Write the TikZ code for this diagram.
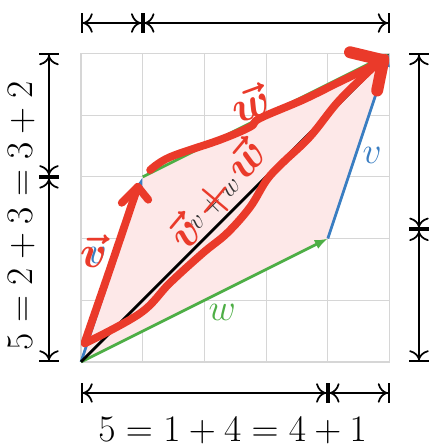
\documentclass[tikz,border=0pt]{standalone}
\usetikzlibrary{arrows.meta}
\definecolor{vblue}{HTML}{3A7EC2}
\definecolor{wgreen}{HTML}{4DAE45}
\definecolor{pfill}{HTML}{FDE8E8}
\definecolor{redpen}{HTML}{EA3A2A}
\definecolor{gridgray}{HTML}{D6D6D6}
\begin{document}
\begin{tikzpicture}[x=1cm,y=1cm,
  dimline/.style={line width=0.8pt,
    {Bar[width=9pt,line width=0.9pt]Computer Modern Rightarrow[width=9pt,length=4.5pt]}-{Computer Modern Rightarrow[width=9pt,length=4.5pt]Bar[width=9pt,line width=0.9pt]}},
  vecline/.style={line width=1.3pt,-{Latex[length=6pt,width=4.5pt]}},
  biglabel/.style={font=\fontsize{16}{18}\selectfont, inner sep=0pt},
  dimlabel/.style={font=\fontsize{17}{20}\selectfont, inner sep=0pt},
  pen/.style={redpen, line width=3.6pt, line cap=round, line join=round},
  pentext/.style={text=redpen, font=\fontsize{20}{22}\selectfont\boldmath, inner sep=0pt}]
\useasboundingbox (-1.313,-1.378) rectangle (5.721,5.867);
% grid
\draw[gridgray, line width=0.5pt] (0,0) grid (5,5);
% named points
\coordinate (O) at (0,0);
\coordinate (V) at (1,3);
\coordinate (W) at (4,2);
\coordinate (S) at (5,5);
% parallelogram fill
\fill[pfill] (O) -- (V) -- (S) -- (W) -- cycle;
% vectors
\draw[vecline, vblue] (O) -- (V);
\draw[vecline, wgreen] (O) -- (W);
\draw[vecline, vblue] (W) -- (S);
\draw[vecline, wgreen] (V) -- (S);
\draw[vecline, black] (O) -- (S);
% labels
\node[biglabel, text=wgreen] (lw) at (2.29,0.81) {$w$};
\node[biglabel, text=vblue] (lv) at (4.72,3.35) {$v$};
\node[biglabel, text=vblue] (lv2) at (0.26,1.73) {$v$};
\node[font=\fontsize{13}{15}\selectfont, inner sep=0pt, rotate=45, text=black!80] (lvw) at (2.17,2.56) {$v+w$};
% dimension lines
\coordinate (t0) at (0,5.494); \coordinate (t1) at (1,5.494); \coordinate (t5) at (5,5.494);
\coordinate (b0) at (0,-0.502); \coordinate (b4) at (4,-0.502); \coordinate (b5) at (5,-0.502);
\coordinate (l0) at (-0.519,0); \coordinate (l3) at (-0.519,3); \coordinate (l5) at (-0.519,5);
\coordinate (r5) at (5.478,5); \coordinate (r2) at (5.478,2.15); \coordinate (r0) at (5.478,0);
\draw[dimline] (t0) -- (t1);
\draw[dimline] (t1) -- (t5);
\draw[dimline] (b0) -- (b4);
\draw[dimline] (b4) -- (b5);
\draw[dimline] (l0) -- (l3);
\draw[dimline] (l3) -- (l5);
\draw[dimline] (r5) -- (r2);
\draw[dimline] (r2) -- (r0);
\node[dimlabel] (bl) at (2.46,-1.11) {$5=1+4=4+1$};
\node[dimlabel, rotate=90] (ll) at (-0.97,2.37) {$5=2+3=3+2$};
% red pen annotations
\draw[pen] plot[smooth, tension=0.6] coordinates {(0.06,0.30) (0.96,0.79) (1.44,1.28) (1.98,1.77) (2.37,2.09) (2.74,2.51) (3.01,2.95) (3.27,3.23) (3.71,3.65) (4.15,4.20) (4.57,4.62) (4.85,4.88)};
\draw[pen] plot[smooth, tension=0.5] coordinates {(0.06,0.32) (0.45,1.45) (0.92,2.84)};
\draw[pen] (0.66,2.58) -- (0.92,2.84) -- (1.09,2.63);
\draw[pen] plot[smooth, tension=0.6] coordinates {(1.12,3.11) (1.44,3.32) (2.25,3.60) (2.74,3.81) (2.90,3.95) (3.60,4.25) (4.15,4.52) (4.68,4.78) (4.93,4.93)};
\draw[pen, line width=5.5pt] (4.36,5.02) -- (4.90,4.89) -- (4.80,4.40);
\node[pentext] (rv) at (0.2,1.8) {$\vec{v}$};
\node[pentext, rotate=20] (rw) at (2.74,4.20) {$\vec{w}$};
\node[pentext, rotate=50] (rvw) at (2.22,2.71) {$\vec{v}+\vec{w}$};
\end{tikzpicture}
\end{document}
